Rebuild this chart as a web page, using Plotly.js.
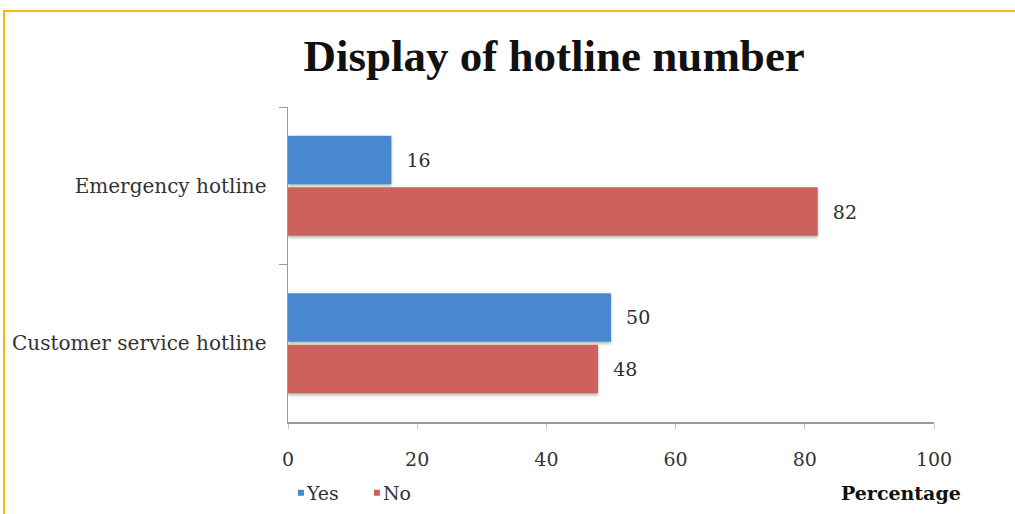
<!DOCTYPE html>
<html>
<head>
<meta charset="utf-8">
<script src="https://cdn.plot.ly/plotly-3.0.1.min.js"></script>
<style>
  html, body { margin: 0; padding: 0; background: #ffffff; }
  #frame {
    position: absolute; left: 3px; top: 10px; right: 0; bottom: 0;
    border-top: 2px solid #f6b90f; border-left: 2px solid #f6b90f;
  }
  #chart { position: absolute; left: 0; top: 0; width: 1015px; height: 514px; }
  #chart .bars .point path { filter: drop-shadow(0px 2px 1.5px rgba(0,0,0,0.28)); }
</style>
</head>
<body>
<div id="frame"></div>
<div id="chart"></div>
<script>
// Survey categories and answer shares (percent)
const categories = ["Emergency hotline", "Customer service hotline"];
const yesValues = [16, 50];
const noValues = [82, 48];
const seriesNames = ["Yes", "No"];
const xTicks = [0, 20, 40, 60, 80, 100];

const labelFont = "DejaVu Serif, serif";
const pad = "\u00a0\u00a0";

function barTrace(name, values, color) {
  return {
    type: "bar",
    orientation: "h",
    name: name,
    y: categories,
    x: values,
    text: values.map(v => pad + v),
    textposition: "outside",
    constraintext: "none",
    cliponaxis: false,
    textfont: { family: labelFont, size: 19, color: "#2e2e2e" },
    marker: { color: color, line: { width: 0 } },
    hoverinfo: "x+name"
  };
}

const data = [
  barTrace(seriesNames[0], yesValues, "#4a87d1"),
  barTrace(seriesNames[1], noValues, "#cd615b")
];

const layout = {
  width: 1015,
  height: 514,
  paper_bgcolor: "rgba(0,0,0,0)",
  plot_bgcolor: "rgba(0,0,0,0)",
  margin: { l: 288, r: 81, t: 107, b: 92, autoexpand: false },
  barmode: "group",
  bargap: 0.345,
  bargroupgap: 0.06,
  title: {
    text: "Display of hotline number",
    font: { family: "Liberation Serif, serif", size: 45, color: "#111111", weight: "bold" },
    xref: "container", yref: "container",
    x: 0.546, xanchor: "center",
    y: 0.893, yanchor: "middle"
  },
  xaxis: {
    range: [0, 100],
    tickvals: xTicks,
    ticktext: xTicks.map(String),
    showgrid: false,
    zeroline: false,
    showline: true,
    linecolor: "#a3978f",
    linewidth: 1.5,
    ticks: "outside",
    ticklen: 5,
    tickcolor: "#c8c0ba",
    ticklabelstandoff: 15,
    tickfont: { family: labelFont, size: 19, color: "#333333" },
    fixedrange: true
  },
  yaxis: {
    type: "category",
    categoryorder: "array",
    categoryarray: categories,
    autorange: "reversed",
    showgrid: false,
    zeroline: false,
    showline: true,
    linecolor: "#a3978f",
    linewidth: 1.5,
    ticks: "outside",
    tickson: "boundaries",
    ticklen: 8,
    tickcolor: "#a3978f",
    ticklabelstandoff: 16,
    tickfont: { family: labelFont, size: 20, color: "#333333" },
    fixedrange: true
  },
  showlegend: true,
  legend: {
    orientation: "h",
    xref: "container", yref: "container",
    x: 0.263, xanchor: "left",
    y: 0.041, yanchor: "middle",
    font: { family: labelFont, size: 19, color: "#333333" },
    bgcolor: "rgba(0,0,0,0)",
    entrywidth: 31,
    entrywidthmode: "pixels"
  },
  annotations: [{
    text: "<b>Percentage</b>",
    xref: "paper", yref: "paper",
    x: 1.045, xanchor: "right",
    y: -0.225, yanchor: "middle",
    showarrow: false,
    font: { family: labelFont, size: 19, color: "#111111" }
  }]
};

Plotly.newPlot("chart", data, layout, { displayModeBar: false, staticPlot: true }).then(function (gd) {
  // smaller square legend swatches sitting close to their labels
  gd.querySelectorAll(".legend .legendpoints path").forEach(function (p) {
    p.setAttribute("d", "M17,3H11V-3H17Z");
  });
});
</script>
</body>
</html>
